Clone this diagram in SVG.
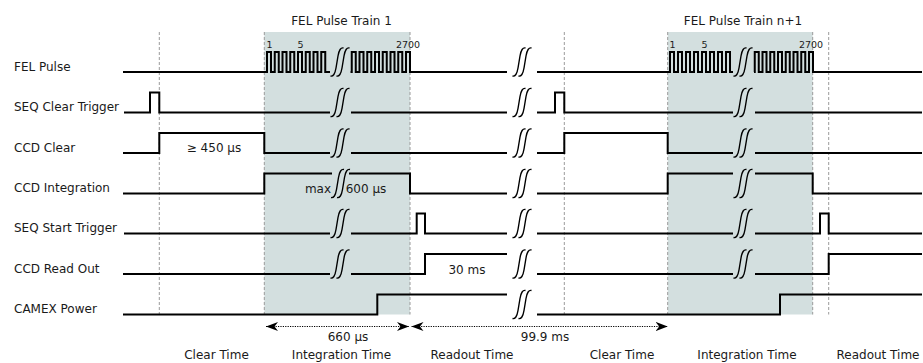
<svg xmlns="http://www.w3.org/2000/svg" xmlns:xlink="http://www.w3.org/1999/xlink" width="923" height="363" viewBox="0 0 923 363">
<style>
text{font-family:"DejaVu Sans","Liberation Sans",sans-serif;font-size:12px;fill:#1a1a1a}
.num{font-size:9.5px}
.mid{text-anchor:middle}
.sig{fill:none;stroke:#000;stroke-width:2;stroke-linejoin:miter}
.brk{fill:none;stroke:#000;stroke-width:1.4}
.dash{stroke:#9a9a9a;stroke-width:1;stroke-dasharray:3 2}
.shade{fill:#d3dfdf}
.dot{fill:none;stroke:#000;stroke-width:1;stroke-dasharray:1.2 1.2}
</style>
<defs>
<g id="brk">
<path class="brk" d="M-9.5 14 Q-5.5 15 -4 6 L-2 -6 Q-0.5 -15 3.5 -14"/>
<path class="brk" d="M-3.5 14 Q0.5 15 2 6 L4 -6 Q5.5 -15 9.5 -14"/>
</g>
<marker id="ah" viewBox="0 0 12 9" refX="12" refY="4.5" markerWidth="12" markerHeight="9" markerUnits="userSpaceOnUse" orient="auto-start-reverse">
<path d="M0 0 L12 4.5 L0 9 L3.5 4.5 Z" fill="#000"/>
</marker>
</defs>
<rect width="923" height="363" fill="#fff"/>
<g id="phases">
<rect class="shade" x="264.3" y="32" width="145.7" height="282.5"/>
<rect class="shade" x="667.7" y="32" width="145" height="282.5"/>
<line class="dash" x1="159.3" y1="32" x2="159.3" y2="314.5"/>
<line class="dash" x1="264.3" y1="32" x2="264.3" y2="314.5"/>
<line class="dash" x1="410" y1="32" x2="410" y2="314.5"/>
<line class="dash" x1="564.3" y1="32" x2="564.3" y2="314.5"/>
<line class="dash" x1="667.7" y1="32" x2="667.7" y2="314.5"/>
<line class="dash" x1="812.7" y1="32" x2="812.7" y2="314.5"/>
<line class="dash" x1="828.7" y1="32" x2="828.7" y2="314.5"/>
<text class="mid" x="341.5" y="24.5">FEL Pulse Train 1</text>
<text class="mid" x="743" y="24.5">FEL Pulse Train n+1</text>
</g>
<g id="fel-pulse">
<text x="14" y="70.5">FEL Pulse</text>
<path class="sig" d="M123 72 H267 V52 H271 V72 H274.75 V52 H278.75 V72 H282.5 V52 H286.5 V72 H290.25 V52 H294.25 V72 H298 V52 H302 V72 H305.75 V52 H309.75 V72 H313.5 V52 H317.5 V72 H321.25 V52 H325.25 V72 H330"/>
<path class="sig" d="M350.5 72 H351.75 V52 H355.75 V72 H359.5 V52 H363.5 V72 H367.25 V52 H371.25 V72 H375 V52 H379 V72 H382.75 V52 H386.75 V72 H390.5 V52 H394.5 V72 H398.25 V52 H402.25 V72 H406 V52 H410 V72 H507"/>
<path class="sig" d="M537 72 H670 V52 H674 V72 H678 V52 H682 V72 H686 V52 H690 V72 H694 V52 H698 V72 H702 V52 H706 V72 H710 V52 H714 V72 H718 V52 H722 V72 H726 V52 H730 V72 H733"/>
<path class="sig" d="M754 72 H754.75 V52 H758.75 V72 H762.5 V52 H766.5 V72 H770.25 V52 H774.25 V72 H778 V52 H782 V72 H785.75 V52 H789.75 V72 H793.5 V52 H797.5 V72 H801.25 V52 H805.25 V72 H809 V52 H813 V72 H922"/>
<text class="num mid" x="269.5" y="48">1</text>
<text class="num mid" x="300.5" y="48">5</text>
<text class="num mid" x="408" y="48">2700</text>
<text class="num mid" x="672.5" y="48">1</text>
<text class="num mid" x="704.5" y="48">5</text>
<text class="num mid" x="811" y="48">2700</text>
</g>
<g id="seq-clear-trigger">
<text x="14" y="111">SEQ Clear Trigger</text>
<path class="sig" d="M124 112.5 H150 V92.5 H159.3 V112.5 H330 M351 112.5 H507 M537 112.5 H555 V92.5 H564.3 V112.5 H733 M755 112.5 H922"/>
</g>
<g id="ccd-clear">
<text x="14" y="151.5">CCD Clear</text>
<path class="sig" d="M123 153 H159.3 V133 H264.3 V153 H330 M351 153 H507 M537 153 H564.3 V133 H667.7 V153 H733 M755 153 H922"/>
<text class="mid" x="214" y="152">≥ 450 μs</text>
</g>
<g id="ccd-integration">
<text x="14" y="192">CCD Integration</text>
<path class="sig" d="M123 193.5 H264.3 V173.5 H332 M349 173.5 H410 V193.5 H507 M537 193.5 H667.7 V173.5 H733 M755 173.5 H812.7 V193.5 H922"/>
<text class="mid" x="318" y="192.5">max</text>
<text class="mid" x="366" y="192.5">600 μs</text>
</g>
<g id="seq-start-trigger">
<text x="14" y="232">SEQ Start Trigger</text>
<path class="sig" d="M124 233.5 H330 M351 233.5 H416.7 V213.5 H425 V233.5 H507 M537 233.5 H733 M755 233.5 H820 V213.5 H828.7 V233.5 H922"/>
</g>
<g id="ccd-read-out">
<text x="14" y="272.5">CCD Read Out</text>
<path class="sig" d="M123 274 H330 M351 274 H425 V254 H507 M537 274 H733 M755 274 H828.7 V254 H922"/>
<text class="mid" x="467" y="274">30 ms</text>
</g>
<g id="camex-power">
<text x="14" y="313">CAMEX Power</text>
<path class="sig" d="M123 314.5 H377.3 V294.5 H507 M537 314.5 H780 V294.5 H922"/>
</g>
<g id="breaks">
<use xlink:href="#brk" x="340" y="62"/>
<use xlink:href="#brk" x="340" y="102.5"/>
<use xlink:href="#brk" x="340" y="143"/>
<use xlink:href="#brk" x="340.5" y="183.5"/>
<use xlink:href="#brk" x="340" y="223.5"/>
<use xlink:href="#brk" x="340" y="264"/>
<use xlink:href="#brk" x="522" y="62"/>
<use xlink:href="#brk" x="522" y="102.5"/>
<use xlink:href="#brk" x="522" y="143"/>
<use xlink:href="#brk" x="522" y="183.5"/>
<use xlink:href="#brk" x="522" y="223.5"/>
<use xlink:href="#brk" x="522" y="264"/>
<use xlink:href="#brk" x="522" y="304.5"/>
<use xlink:href="#brk" x="743" y="62"/>
<use xlink:href="#brk" x="743" y="102.5"/>
<use xlink:href="#brk" x="743" y="143"/>
<use xlink:href="#brk" x="743" y="183.5"/>
<use xlink:href="#brk" x="743" y="223.5"/>
<use xlink:href="#brk" x="743" y="264"/>
</g>
<g id="connectors">
<line class="dot" x1="266" y1="326.5" x2="409" y2="326.5" marker-start="url(#ah)" marker-end="url(#ah)"/>
<line class="dot" x1="411.5" y1="326.5" x2="667.7" y2="326.5" marker-start="url(#ah)" marker-end="url(#ah)"/>
<text class="mid" x="348" y="340.5">660 μs</text>
<text class="mid" x="545" y="340.5">99.9 ms</text>
</g>
<g id="phase-labels">
<text class="mid" x="216.5" y="358.5">Clear Time</text>
<text class="mid" x="341.5" y="358.5">Integration Time</text>
<text class="mid" x="472" y="358.5">Readout Time</text>
<text class="mid" x="622" y="358.5">Clear Time</text>
<text class="mid" x="747" y="358.5">Integration Time</text>
<text class="mid" x="878" y="358.5">Readout Time</text>
</g>
</svg>
